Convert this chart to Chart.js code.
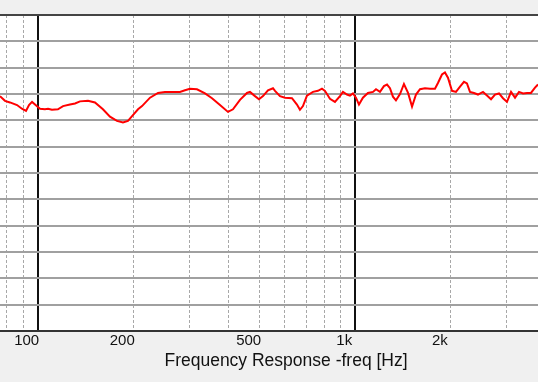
<!DOCTYPE html>
<html>
<head>
<meta charset="utf-8">
<script src="https://cdn.jsdelivr.net/npm/chart.js@4/dist/chart.umd.min.js"></script>
<style>
    body { margin: 0; background: #f0f0f0; }
    #wrap { width: 538px; height: 382px; }
</style>
</head>
<body>
<div id="wrap"><canvas id="fr"></canvas></div>
<script>
// frequency points (Hz)
const freqs = [
    76.1, 78.9, 81.8, 86.1, 89.2, 91.9, 93.9, 96.0, 98.1, 101.7,
    105.4, 107.8, 110.9, 115.8, 120.2, 126.4, 131.1, 135.9, 144.0, 151.5,
    160.5, 168.9, 177.7, 185.6, 192.4, 199.5, 207.0, 213.1, 225.8, 239.3,
    251.6, 280.5, 290.9, 301.6, 317.4, 336.4, 353.9, 375.0, 397.4, 412.0,
    433.5, 456.0, 466.1, 483.3, 497.5, 512.2, 531.1, 550.7, 558.8, 579.4,
    600.8, 631.9, 655.2, 669.6, 684.3, 704.5, 735.8, 762.9, 785.4, 802.7,
    832.3, 863.0, 894.8, 914.5, 941.4, 962.3, 983.5, 1005, 1027, 1057,
    1096, 1137, 1162, 1196, 1231, 1259, 1286, 1314, 1343, 1383,
    1423, 1466, 1509, 1553, 1599, 1658, 1719, 1782, 1821, 1875,
    1916, 1958, 2016, 2075, 2137, 2199, 2247, 2297, 2365, 2434,
    2524, 2598, 2675, 2754, 2835, 2918, 3004, 3093, 3184, 3277,
    3374, 3473, 3574, 3680, 3761
];

// level (dB)
const levels = [
    84.6, 83.7, 83.4, 82.9, 82.2, 81.8, 82.9, 83.5, 83.0, 82.2,
    82.1, 82.2, 82.0, 82.1, 82.7, 83.0, 83.2, 83.6, 83.7, 83.4,
    82.1, 80.7, 79.9, 79.6, 79.9, 81.0, 82.1, 82.7, 84.3, 85.2,
    85.4, 85.4, 85.7, 86.0, 85.9, 85.1, 84.2, 82.9, 81.6, 82.1,
    83.9, 85.2, 85.4, 84.6, 84.0, 84.6, 85.7, 86.1, 85.6, 84.6,
    84.3, 84.2, 83.0, 82.0, 82.7, 84.7, 85.4, 85.6, 86.0, 85.6,
    84.1, 83.5, 84.6, 85.4, 84.9, 84.7, 85.1, 84.3, 83.0, 84.3,
    85.2, 85.4, 85.9, 85.4, 86.5, 86.8, 86.1, 84.5, 83.8, 85.0,
    86.9, 85.2, 82.6, 84.9, 85.9, 86.1, 86.0, 86.0, 87.1, 88.7,
    89.1, 88.1, 85.6, 85.4, 86.4, 87.3, 87.0, 85.4, 85.2, 84.9,
    85.4, 84.7, 84.0, 84.9, 85.1, 84.2, 83.5, 85.4, 84.3, 85.4,
    85.1, 85.2, 85.2, 86.2, 86.8
];

// vertical grid positions and which of them get a label
const gridFreqs = [80, 90, 100, 200, 300, 400, 500, 600, 700, 800, 900, 1000, 2000, 3000];
const tickLabels = { 100: '100', 200: '200', 500: '500', 1000: '1k', 2000: '2k' };
const majorFreqs = [100, 1000];

const fMin = 76.1;
const fMax = 3761;
const dbMin = 40;
const dbMax = 100;

const plotBg = {
    id: 'plotBg',
    beforeDraw(chart) {
        const { ctx, chartArea: a } = chart;
        ctx.save();
        ctx.fillStyle = '#ffffff';
        ctx.fillRect(a.left, a.top, a.right - a.left, a.bottom - a.top);
        ctx.restore();
    }
};

const points = freqs.map((f, i) => ({ x: f, y: levels[i] }));

new Chart(document.getElementById('fr'), {
    type: 'line',
    data: {
        datasets: [{
            data: points,
            borderColor: '#ff0000',
            borderWidth: 2,
            pointRadius: 0,
            tension: 0,
            fill: false
        }]
    },
    options: {
        responsive: true,
        maintainAspectRatio: false,
        animation: false,
        layout: { padding: { top: 15, left: 0, right: 0, bottom: 0 } },
        plugins: {
            legend: { display: false },
            tooltip: { enabled: false }
        },
        scales: {
            x: {
                type: 'logarithmic',
                min: fMin,
                max: fMax,
                afterBuildTicks: scale => {
                    scale.ticks = gridFreqs.map(v => ({ value: v }));
                },
                ticks: {
                    autoSkip: false,
                    maxRotation: 0,
                    padding: 1,
                    labelOffset: -11,
                    color: '#111111',
                    font: { family: 'Liberation Sans', size: 15 },
                    callback: v => tickLabels[v] || ''
                },
                grid: {
                    drawTicks: false,
                    color: c => (c.tick && majorFreqs.includes(c.tick.value)) ? '#111111' : '#a8a8a8',
                    lineWidth: c => (c.tick && majorFreqs.includes(c.tick.value)) ? 2 : 1
                },
                border: {
                    display: true,
                    color: '#333333',
                    width: 2,
                    dash: c => (c.tick && !majorFreqs.includes(c.tick.value)) ? [3, 2] : []
                },
                title: {
                    display: true,
                    // leading spaces nudge the centred title to the right, as in the original
                    text: '       Frequency Response -freq [Hz]',
                    color: '#111111',
                    font: { family: 'Liberation Sans', size: 17.5 },
                    padding: { top: 0, bottom: 10 }
                }
            },
            y: {
                min: dbMin,
                max: dbMax,
                ticks: { display: false, stepSize: 5 },
                grid: {
                    drawTicks: false,
                    color: c => (c.tick && (c.tick.value === dbMax || c.tick.value === dbMin)) ? '#444444' : '#a0a0a0',
                    lineWidth: 2
                },
                border: { display: false }
            }
        }
    },
    plugins: [plotBg]
});
</script>
</body>
</html>
